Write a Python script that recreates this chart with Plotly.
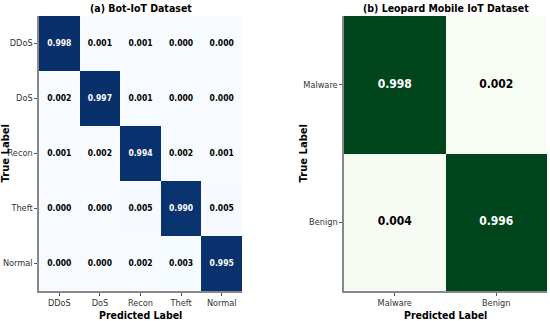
import plotly.graph_objects as go

bot_labels = ["DDoS", "DoS", "Recon", "Theft", "Normal"]
bot_values = [
    [0.998, 0.001, 0.001, 0.000, 0.000],
    [0.002, 0.997, 0.001, 0.000, 0.000],
    [0.001, 0.002, 0.994, 0.002, 0.001],
    [0.000, 0.000, 0.005, 0.990, 0.005],
    [0.000, 0.000, 0.002, 0.003, 0.995],
]
leo_labels = ["Malware", "Benign"]
leo_values = [
    [0.998, 0.002],
    [0.004, 0.996],
]

COND = "DejaVu Sans Condensed, DejaVu Sans"
TICKFONT = dict(family="DejaVu Sans", size=8.2, color="#333333")

fig = go.Figure()

def add_cm(labels, values, cs, xa, ya, size):
    fig.add_trace(go.Heatmap(z=values, x=labels, y=labels, colorscale=cs, zmin=0, zmax=1,
                             showscale=False, xaxis=xa, yaxis=ya, hoverinfo="skip"))
    xs, ys, ts, cols = [], [], [], []
    for i, r in enumerate(labels):
        for j, c in enumerate(labels):
            v = values[i][j]
            xs.append(c); ys.append(r); ts.append(f"{v:.3f}")
            cols.append("white" if v > 0.5 else "black")
    fig.add_trace(go.Scatter(x=xs, y=ys, text=ts, mode="text", xaxis=xa, yaxis=ya,
                             textfont=dict(family=COND, size=size, color=cols, weight="bold"),
                             hoverinfo="skip", showlegend=False))

add_cm(bot_labels, bot_values, "Blues", "x", "y", 8.5)
add_cm(leo_labels, leo_values, "Greens", "x2", "y2", 12)

ax = dict(showgrid=False, zeroline=False, showline=True, linecolor="#888888", linewidth=1.5,
          ticks="outside", ticklen=3, tickcolor="#555555", tickfont=TICKFONT, mirror=False)
ytop, ybot = 1 - 16 / 321, 1 - 291 / 321
fig.update_layout(
    width=550, height=321, margin=dict(l=0, r=0, t=0, b=0),
    paper_bgcolor="white", plot_bgcolor="white", showlegend=False,
    xaxis=dict(domain=[39 / 550, 242 / 550], anchor="y", **ax),
    yaxis=dict(domain=[ybot, ytop], anchor="x", autorange="reversed", **ax),
    xaxis2=dict(domain=[344 / 550, 547 / 550], anchor="y2", **ax),
    yaxis2=dict(domain=[ybot, ytop], anchor="x2", autorange="reversed", **ax),
)

def ann(text, x, y, size, angle=0, family=COND):
    fig.add_annotation(text=text, x=x, y=y, xref="paper", yref="paper", showarrow=False,
                       textangle=angle, font=dict(family=family, size=size, color="black", weight="bold"),
                       xanchor="center", yanchor="middle")

ann("(a) Bot-IoT Dataset", 140.5 / 550, 1 - 8 / 321, 10.5)
ann("(b) Leopard Mobile IoT Dataset", 445.5 / 550, 1 - 8 / 321, 10.5)
ann("Predicted Label", 140.5 / 550, 1 - 314.5 / 321, 10.5)
ann("Predicted Label", 445.5 / 550, 1 - 314.5 / 321, 10.5)
ann("True Label", 5.5 / 550, 1 - 153 / 321, 10, -90, "DejaVu Sans")
ann("True Label", 303.5 / 550, 1 - 153 / 321, 10, -90, "DejaVu Sans")

fig.write_html("out.html", config={"displayModeBar": False},
               post_script="document.body.style.margin='0';document.body.style.overflow='hidden';")
